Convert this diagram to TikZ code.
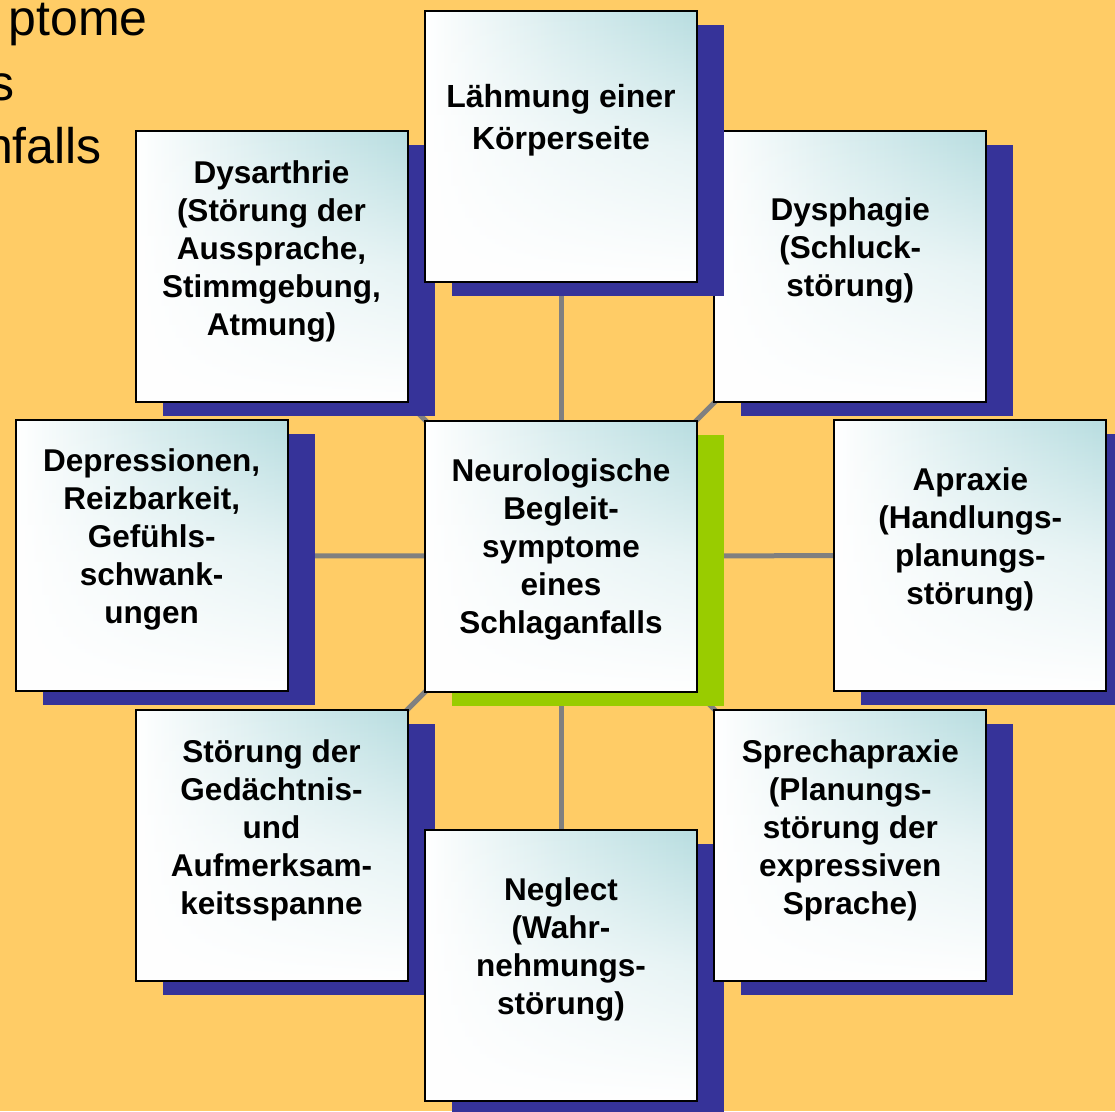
\documentclass[tikz,border=0pt]{standalone}
\usepackage{fontspec}
\setmainfont{Liberation Sans}
\usetikzlibrary{shadows,fadings}
\definecolor{bgyellow}{RGB}{255,204,102}
\definecolor{shblue}{RGB}{54,51,153}
\definecolor{shgreen}{RGB}{153,204,0}
\definecolor{boxteal}{RGB}{183,221,224}
\definecolor{conngray}{RGB}{128,128,128}
\tikzfading[name=fadeup, top color=transparent!100, bottom color=transparent!0, middle color=transparent!35]
\pgfdeclarelayer{bglayer}
\pgfdeclarelayer{linelayer}
\pgfsetlayers{bglayer,linelayer,main}
\begin{document}
\begin{tikzpicture}[x=1pt,y=-1pt,
  boxbase/.style={minimum width=272pt, minimum height=271pt, inner sep=0pt,
    left color=white, right color=boxteal, middle color=boxteal!55!white,
    postaction={fill=white, path fading=fadeup},
    postaction={draw=black, line width=2pt}},
  bluebox/.style={boxbase, general shadow={fill=shblue, shadow xshift=27pt, shadow yshift=-14pt}},
  greenbox/.style={boxbase, general shadow={fill=shgreen, shadow xshift=27pt, shadow yshift=-14pt}},
  txt/.style={align=center, inner sep=0pt, anchor=north, font=\bfseries\fontsize{31.5}{38}\selectfont},
  bigtxt/.style={txt, font=\bfseries\fontsize{32}{42}\selectfont},
  ttl/.style={inner sep=0pt, anchor=base east, font=\fontsize{50}{60}\selectfont},
  conn/.style={draw=conngray, line width=5pt}]
\begin{pgfonlayer}{bglayer}
\fill[bgyellow] (0,0) rectangle (1115,1111);
\end{pgfonlayer}
\useasboundingbox (0,0) rectangle (1115,1111);

\node[ttl] (t1) at (148,35) {ptome};
\node[ttl] (t2) at (15,100) {s};
\node[ttl] (t3) at (102,163) {nfalls};

\node[bluebox] (dys) at (271.5,266.5) {};
\node[txt] (dyst) at (271.5,153) {\rule{0pt}{30pt}Dysarthrie\\(Störung der\\Aussprache,\\Stimmgebung,\\Atmung)};

\node[bluebox] (dph) at (850.3,266.5) {};
\node[txt] (dpht) at (850.3,190) {\rule{0pt}{30pt}Dysphagie\\(Schluck-\\störung)};

\node[bluebox] (lah) at (561,146) {};
\node[bigtxt] (laht) at (561,77.3) {\rule{0pt}{30pt}Lähmung einer\\Körperseite};

\node[bluebox] (dep) at (151.7,555.7) {};
\node[txt] (dept) at (151.7,441.7) {\rule{0pt}{30pt}Depressionen,\\Reizbarkeit,\\Gefühls-\\schwank-\\ungen};

\node[greenbox] (cen) at (561,556) {};
\node[txt] (cent) at (561,451.7) {\rule{0pt}{30pt}Neurologische\\Begleit-\\symptome\\eines\\Schlaganfalls};

\node[bluebox] (apr) at (970.3,555.5) {};
\node[txt] (aprt) at (970.3,460.7) {\rule{0pt}{30pt}Apraxie\\(Handlungs-\\planungs-\\störung)};

\node[bluebox] (stg) at (271.5,845.5) {};
\node[txt] (stgt) at (271.5,732) {\rule{0pt}{30pt}Störung der\\Gedächtnis-\\und\\Aufmerksam-\\keitsspanne};

\node[bluebox] (neg) at (561,965) {};
\node[txt] (negt) at (561,870) {\rule{0pt}{30pt}Neglect\\(Wahr-\\nehmungs-\\störung)};

\node[bluebox] (spr) at (850.3,845.5) {};
\node[txt] (sprt) at (850.3,732) {\rule{0pt}{30pt}Sprechapraxie\\(Planungs-\\störung der\\expressiven\\Sprache)};

\begin{pgfonlayer}{linelayer}
\draw[conn] (cen.center) -- (lah.center);
\draw[conn] (cen.center) -- (neg.center);
\draw[conn] (cen.center) -- (dep.center);
\draw[conn] (cen.center) -- (apr.center);
\draw[conn] (cen.center) -- (dys.center);
\draw[conn] (cen.center) -- (dph.center);
\draw[conn] (cen.center) -- (stg.center);
\draw[conn] (cen.center) -- (spr.center);
\end{pgfonlayer}
\end{tikzpicture}
\end{document}
